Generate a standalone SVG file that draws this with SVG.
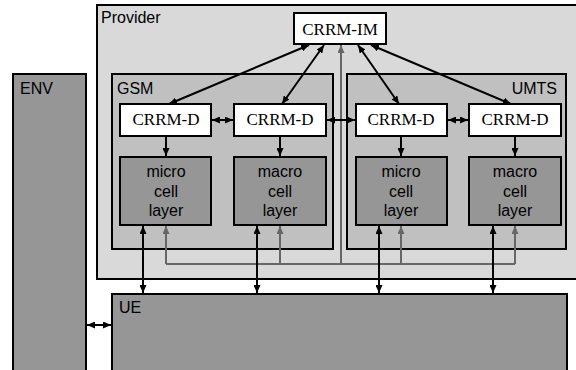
<svg xmlns="http://www.w3.org/2000/svg" width="576" height="370" viewBox="0 0 576 370">
<style>
.box{stroke:#000;stroke-width:2}
.prov{fill:#d9d9d9}
.sys{fill:#c0c0c0}
.dark{fill:#969696}
.white{fill:#fff}
.lbl{font-family:"Liberation Sans",Arial,sans-serif;font-size:16px;fill:#000}
.cell{font-family:"Liberation Sans",Arial,sans-serif;font-size:16px;fill:#000;text-anchor:middle}
.ser{font-family:"Liberation Serif","Times New Roman",serif;font-size:17px;fill:#000;text-anchor:middle}
.blk{stroke:#000;stroke-width:2;fill:none}
.gry{stroke:#666;stroke-width:2;fill:none}
</style>
<defs>
<marker id="ah" markerUnits="userSpaceOnUse" markerWidth="8" markerHeight="7" refX="8" refY="3.5" orient="auto-start-reverse"><path d="M0,0 L8,3.5 L0,7 z" fill="#000"/></marker>
<marker id="ahg" markerUnits="userSpaceOnUse" markerWidth="8" markerHeight="7" refX="8" refY="3.5" orient="auto"><path d="M0,0 L8,3.5 L0,7 z" fill="#666"/></marker>
</defs>
<g id="provider"><rect class="box prov" x="97" y="5" width="495" height="274"/><text class="lbl" x="101" y="23">Provider</text></g>
<g id="env"><rect class="box dark" x="13" y="74" width="73" height="310"/><text class="lbl" x="20" y="94">ENV</text></g>
<g id="ue"><rect class="box dark" x="112" y="294" width="455" height="90"/><text class="lbl" x="119" y="313">UE</text></g>
<g id="gsm"><rect class="box sys" x="112" y="74" width="221" height="175"/><text class="lbl" x="117" y="94">GSM</text></g>
<g id="umts"><rect class="box sys" x="347" y="74" width="219" height="175"/><text class="lbl" x="557" y="94" text-anchor="end">UMTS</text></g>
<g id="crrm-im"><rect class="box white" x="294" y="13" width="92" height="31"/><text class="ser" x="340" y="35">CRRM-IM</text></g>
<g id="crrm-d1"><rect class="box white" x="120" y="104" width="91" height="32"/><text class="ser" x="166" y="125">CRRM-D</text></g>
<g id="crrm-d2"><rect class="box white" x="234" y="104" width="92" height="32"/><text class="ser" x="280" y="125">CRRM-D</text></g>
<g id="crrm-d3"><rect class="box white" x="356" y="104" width="91" height="32"/><text class="ser" x="401" y="125">CRRM-D</text></g>
<g id="crrm-d4"><rect class="box white" x="469" y="104" width="92" height="32"/><text class="ser" x="515" y="125">CRRM-D</text></g>
<g id="gsm-micro"><rect class="box dark" x="120" y="157" width="91" height="68"/><text class="cell" x="166" y="177">micro</text><text class="cell" x="166" y="197">cell</text><text class="cell" x="166" y="216">layer</text></g>
<g id="gsm-macro"><rect class="box dark" x="234" y="157" width="92" height="68"/><text class="cell" x="280" y="177">macro</text><text class="cell" x="280" y="197">cell</text><text class="cell" x="280" y="216">layer</text></g>
<g id="umts-micro"><rect class="box dark" x="356" y="157" width="91" height="68"/><text class="cell" x="401" y="177">micro</text><text class="cell" x="401" y="197">cell</text><text class="cell" x="401" y="216">layer</text></g>
<g id="umts-macro"><rect class="box dark" x="469" y="157" width="92" height="68"/><text class="cell" x="515" y="177">macro</text><text class="cell" x="515" y="197">cell</text><text class="cell" x="515" y="216">layer</text></g>
<g id="connectors">
<path class="gry" d="M166,264 H515 M341,264 V52"/>
<path class="gry" d="M341,60 V45" marker-end="url(#ahg)"/>
<path class="gry" d="M166,264 V226" marker-end="url(#ahg)"/>
<path class="gry" d="M280,264 V226" marker-end="url(#ahg)"/>
<path class="gry" d="M401,264 V226" marker-end="url(#ahg)"/>
<path class="gry" d="M515,264 V226" marker-end="url(#ahg)"/>
<path class="blk" d="M309,45 L169,104" marker-start="url(#ah)" marker-end="url(#ah)"/>
<path class="blk" d="M324,45 L282,104" marker-start="url(#ah)" marker-end="url(#ah)"/>
<path class="blk" d="M358,45 L399,104" marker-start="url(#ah)" marker-end="url(#ah)"/>
<path class="blk" d="M371,45 L511,104" marker-start="url(#ah)" marker-end="url(#ah)"/>
<path class="blk" d="M212,120 H233" marker-start="url(#ah)" marker-end="url(#ah)"/>
<path class="blk" d="M327,120 H355" marker-start="url(#ah)" marker-end="url(#ah)"/>
<path class="blk" d="M448,120 H468" marker-start="url(#ah)" marker-end="url(#ah)"/>
<path class="blk" d="M166,137 V156" marker-end="url(#ah)"/>
<path class="blk" d="M280,137 V156" marker-end="url(#ah)"/>
<path class="blk" d="M401,137 V156" marker-end="url(#ah)"/>
<path class="blk" d="M515,137 V156" marker-end="url(#ah)"/>
<path class="blk" d="M143,226 V293" marker-start="url(#ah)" marker-end="url(#ah)"/>
<path class="blk" d="M257,226 V293" marker-start="url(#ah)" marker-end="url(#ah)"/>
<path class="blk" d="M379,226 V293" marker-start="url(#ah)" marker-end="url(#ah)"/>
<path class="blk" d="M493,226 V293" marker-start="url(#ah)" marker-end="url(#ah)"/>
<path class="blk" d="M87,325 H111" marker-start="url(#ah)" marker-end="url(#ah)"/>
</g>
</svg>
